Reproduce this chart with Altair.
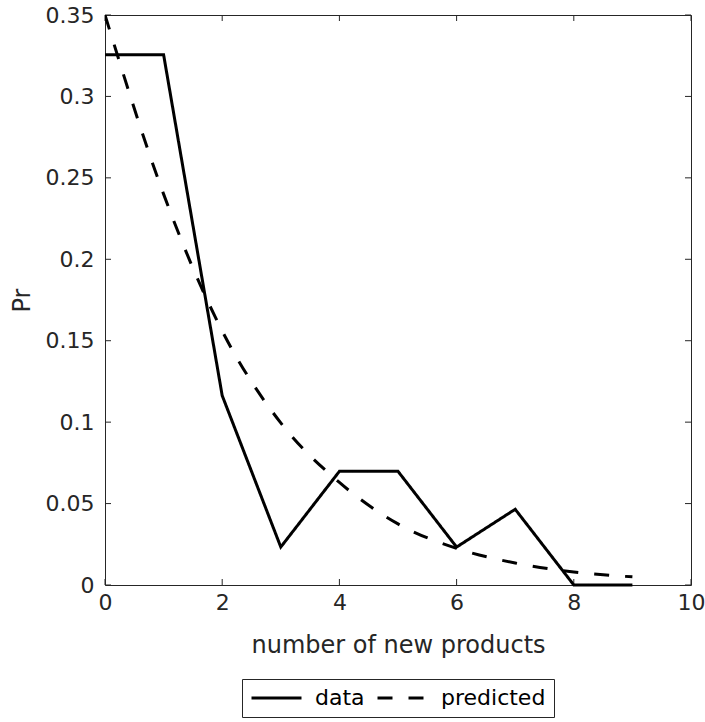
import altair as alt
import pandas as pd

# Number of new products (x) and observed / model probabilities
products = [0, 1, 2, 3, 4, 5, 6, 7, 8, 9]
observed = [0.3256, 0.3256, 0.1163, 0.0233, 0.0698, 0.0698, 0.0233, 0.0465, 0.0, 0.0]
predicted = [0.350, 0.240, 0.156, 0.0995, 0.063, 0.0375, 0.0225, 0.0135, 0.008, 0.005]

series_names = ["data", "predicted"]
x_ticks = [0, 2, 4, 6, 8, 10]
y_ticks = [0, 0.05, 0.1, 0.15, 0.2, 0.25, 0.3, 0.35]

W, H = 586, 570
FONT = "DejaVu Sans"
INK = "#262626"

lines_df = pd.DataFrame(
    {
        "k": products * 2,
        "pr": observed + predicted,
        "series": [series_names[0]] * len(products) + [series_names[1]] * len(products),
    }
)
xt_df = pd.DataFrame({"v": x_ticks})
yt_df = pd.DataFrame({"v": y_ticks})

x_scale = alt.Scale(domain=[0, 10], nice=False, zero=False)
y_scale = alt.Scale(domain=[0, 0.35], nice=False, zero=False)

x_enc = alt.X(
    "k:Q",
    scale=x_scale,
    axis=alt.Axis(
        values=x_ticks,
        format="d",
        ticks=False,
        domain=False,
        grid=False,
        labelFlush=False,
        labelOverlap=False,
        labelFont=FONT,
        labelFontSize=22,
        labelColor=INK,
        labelPadding=7,
        title="number of new products",
        titleFont=FONT,
        titleFontSize=24,
        titleFontWeight="normal",
        titleColor=INK,
        titleX=W / 2,
        titleY=60,
        titleBaseline="middle",
    ),
)
y_enc = alt.Y(
    "pr:Q",
    scale=y_scale,
    axis=alt.Axis(
        values=y_ticks,
        format="~g",
        ticks=False,
        domain=False,
        grid=False,
        labelFlush=False,
        labelOverlap=False,
        labelFont=FONT,
        labelFontSize=22,
        labelColor=INK,
        labelPadding=11,
        title="Pr",
        titleFont=FONT,
        titleFontSize=24,
        titleFontWeight="normal",
        titleColor=INK,
        titleAngle=-90,
        titleAlign="center",
        titleBaseline="middle",
        titleX=-83,
        titleY=H / 2,
    ),
)

dash_enc = alt.StrokeDash(
    "series:N",
    scale=alt.Scale(domain=series_names, range=[[1, 0], [15, 16]]),
    legend=alt.Legend(
        title=None,
        orient="none",
        legendX=137,
        legendY=664,
        direction="horizontal",
        symbolType="stroke",
        symbolSize=2500,
        symbolStrokeWidth=3,
        symbolStrokeColor="black",
        clipHeight=22,
        labelFont=FONT,
        labelFontSize=22,
        labelColor="black",
        labelOffset=12,
        columnPadding=11,
        padding=8,
        strokeColor=INK,
        fillColor="white",
    ),
)

base = alt.Chart(lines_df).encode(x=x_enc, y=y_enc, strokeDash=dash_enc)

data_line = base.transform_filter(alt.datum.series == "data").mark_line(
    color="black", strokeWidth=3, strokeJoin="miter", strokeCap="butt"
)
pred_line = base.transform_filter(alt.datum.series == "predicted").mark_line(
    color="black", strokeWidth=3, strokeCap="butt", interpolate="monotone", clip=True
)

# Inward-facing tick marks on all four sides of the box
tick_style = dict(color=INK, strokeWidth=1)
bottom_ticks = alt.Chart(xt_df).mark_rule(**tick_style).encode(
    x=alt.X("v:Q", scale=x_scale), y=alt.value(H), y2=alt.value(H - 6)
)
top_ticks = alt.Chart(xt_df).mark_rule(**tick_style).encode(
    x=alt.X("v:Q", scale=x_scale), y=alt.value(0), y2=alt.value(6)
)
left_ticks = alt.Chart(yt_df).mark_rule(**tick_style).encode(
    y=alt.Y("v:Q", scale=y_scale), x=alt.value(0), x2=alt.value(6)
)
right_ticks = alt.Chart(yt_df).mark_rule(**tick_style).encode(
    y=alt.Y("v:Q", scale=y_scale), x=alt.value(W), x2=alt.value(W - 6)
)

chart = (
    alt.layer(bottom_ticks, top_ticks, left_ticks, right_ticks, pred_line, data_line)
    .properties(
        width=W,
        height=H,
        autosize="none",
        padding={"left": 105, "top": 15, "right": 14, "bottom": 137},
        background="white",
    )
    .configure_view(stroke=INK, strokeWidth=1)
)

chart.save("out.html", embed_options={"renderer": "svg", "actions": False})
